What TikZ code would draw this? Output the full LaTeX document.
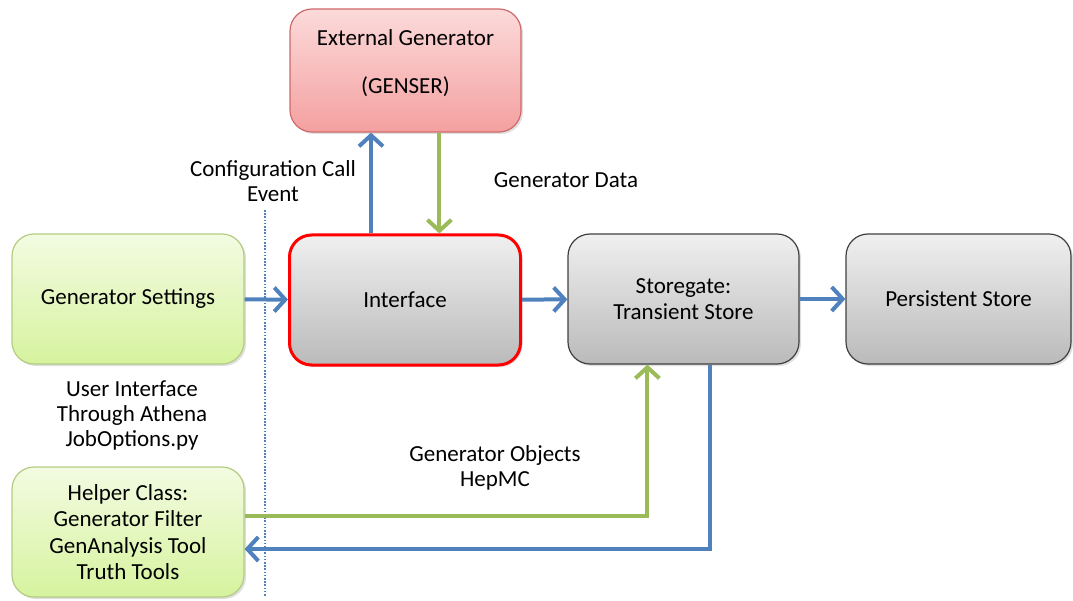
\documentclass[tikz,border=0pt]{standalone}
\usepackage{fontspec}
\setmainfont{Carlito}
\usetikzlibrary{arrows.meta,shadows}
\definecolor{ablue}{HTML}{4F81BD}
\definecolor{agreen}{HTML}{9BBB59}
\tikzset{
  box/.style={rectangle, rounded corners=22pt, align=center, inner sep=4pt,
    font=\fontsize{23}{26.5}\selectfont, line width=1.2pt,
    drop shadow={opacity=0.25, shadow xshift=2pt, shadow yshift=-2pt}},
  graybox/.style={box, draw=black!75, top color=black!6, bottom color=black!27},
  greenbox/.style={box, draw=agreen!75, top color={rgb,255:red,243;green,251;blue,226}, bottom color={rgb,255:red,214;green,243;blue,158}},
  pinkbox/.style={box, draw={rgb,255:red,208;green,105;blue,105}, top color={rgb,255:red,252;green,218;blue,218}, bottom color={rgb,255:red,244;green,160;blue,160}},
  lbl/.style={align=center, font=\fontsize{23}{25}\selectfont},
  barrow/.style={draw=ablue, line width=4pt, -{Straight Barb[length=11pt,width=24pt]}},
  garrow/.style={draw=agreen, line width=4pt, -{Straight Barb[length=11pt,width=24pt]}},
}
\begin{document}
\begin{tikzpicture}[x=1pt,y=-1pt]
\useasboundingbox (0,0) rectangle (1073,601);
\node[pinkbox, minimum width=231pt, minimum height=123pt] (ext) at (405.5,70.5)
  {External Generator\\[22pt](GENSER)\rule[-18pt]{0pt}{18pt}};
\node[greenbox, minimum width=232pt, minimum height=130pt] (gs) at (128,299) {Generator Settings};
\node[graybox, draw=red, line width=3pt, minimum width=231pt, minimum height=130pt] (int) at (405,300) {Interface};
\node[graybox, minimum width=231pt, minimum height=130pt] (sg) at (683.5,299) {Storegate:\\Transient Store};
\node[graybox, minimum width=225pt, minimum height=130pt] (ps) at (958.5,299) {Persistent Store};
\node[greenbox, minimum width=232pt, minimum height=130pt] (hc) at (128,532)
  {Helper Class:\\Generator Filter\\GenAnalysis Tool\\Truth Tools};

\coordinate (dtop) at (265,210);
\coordinate (dbot) at (265,597);
\draw[ablue, line width=1.1pt, dash pattern=on 1.6pt off 1.6pt] (dtop) -- (dbot);

\draw[barrow] (gs) -- (int);
\draw[barrow] (int) -- (sg);
\draw[barrow] (sg) -- (ps);
\draw[barrow] ([xshift=83pt]int.north west) -- ([xshift=83pt]int.north west |- ext.south);
\draw[garrow] ([xshift=150pt]ext.south west) -- ([xshift=150pt]ext.south west |- int.north);
\draw[garrow] ([yshift=16pt]hc.east) -| ([xshift=80pt]sg.south west);
\draw[barrow] ([xshift=143pt]sg.south west) |- ([yshift=-17pt]hc.east);

\node[lbl] (cfg) at (273,181) {Configuration Call\\Event};
\node[lbl] (gd) at (566,180) {Generator Data};
\node[lbl] (ui) at (132,415) {User Interface\\Through Athena\\JobOptions.py};
\node[lbl] (go) at (495,468) {Generator Objects\\HepMC};
\end{tikzpicture}
\end{document}
